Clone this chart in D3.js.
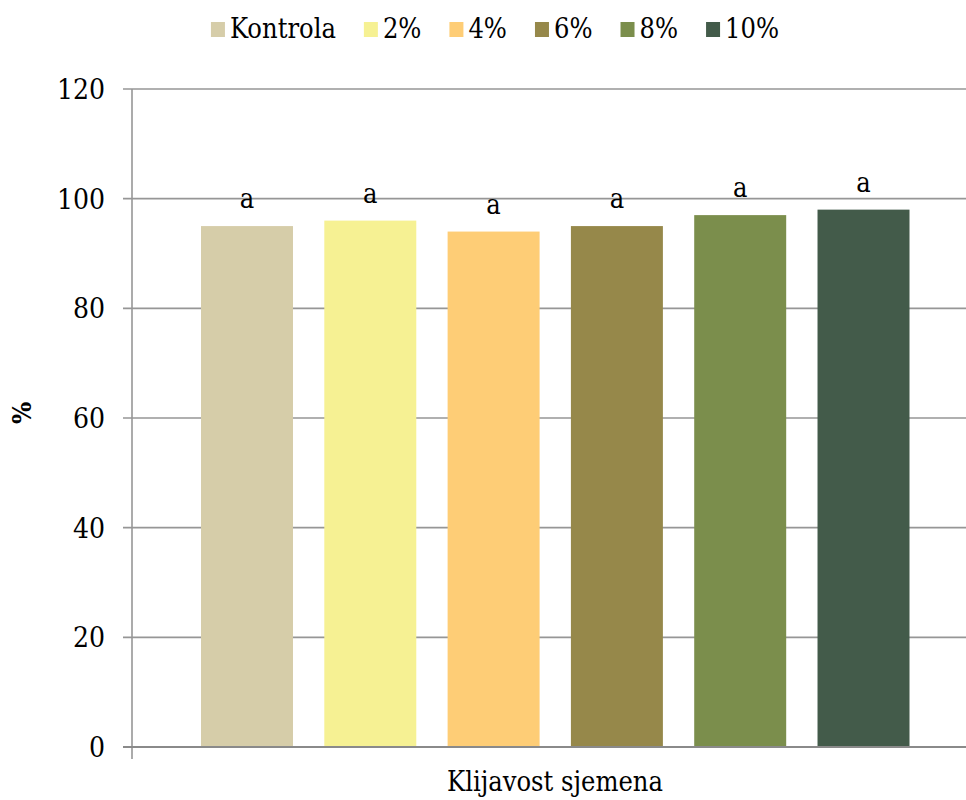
<!DOCTYPE html>
<html>
<head>
<meta charset="utf-8">
<script src="https://cdn.jsdelivr.net/npm/d3@7"></script>
<style>
  body { margin: 0; background: #fff; }
  svg { display: block; }
  svg text { font-family: 'DejaVu Serif Condensed', 'DejaVu Serif', serif; font-stretch: condensed; }
</style>
</head>
<body>
<div id="chart"></div>
<script>
// data
const categories = ["Kontrola", "2%", "4%", "6%", "8%", "10%"];
const values = [95, 96, 94, 95, 97, 98];
const letters = ["a", "a", "a", "a", "a", "a"];
const colors = ["#d6cda9", "#f6f193", "#fecd76", "#96884a", "#7b8e4c", "#435b4a"];
const yTicks = [0, 20, 40, 60, 80, 100, 120];

const width = 966, height = 800;
const svg = d3.select('#chart').append('svg')
  .attr('width', width)
  .attr('height', height);

// plot area
const plotLeft = 132, plotTop = 89, plotBottom = 747, plotRight = 978;

const y = d3.scaleLinear().domain([0, 120]).range([plotBottom, plotTop]);
const x = d3.scaleBand().domain(categories)
  .range([201, 909.5])
  .paddingInner(0.254)
  .paddingOuter(0);

// gridlines
svg.append('g').selectAll('line')
  .data(yTicks.filter(d => d > 0))
  .join('line')
  .attr('x1', plotLeft - 9)
  .attr('x2', plotRight)
  .attr('y1', d => y(d))
  .attr('y2', d => y(d))
  .attr('stroke', '#969696')
  .attr('stroke-width', 1.6);

// tick labels
svg.append('g').selectAll('text')
  .data(yTicks)
  .join('text')
  .attr('x', 105)
  .attr('y', d => y(d))
  .attr('dy', '0.36em')
  .attr('text-anchor', 'end')
  .attr('font-size', 28)
  .text(d => d);

// bars
svg.append('g').selectAll('rect')
  .data(values)
  .join('rect')
  .attr('x', (d, i) => x(categories[i]))
  .attr('y', d => y(d))
  .attr('width', x.bandwidth())
  .attr('height', d => y(0) - y(d))
  .attr('fill', (d, i) => colors[i]);

// letters above bars
svg.append('g').selectAll('text')
  .data(values)
  .join('text')
  .attr('x', (d, i) => x(categories[i]) + x.bandwidth() / 2)
  .attr('y', d => y(d) - 18)
  .attr('text-anchor', 'middle')
  .attr('font-size', 27)
  .text((d, i) => letters[i]);

// axes lines
svg.append('line')
  .attr('x1', plotLeft).attr('x2', plotLeft)
  .attr('y1', plotTop).attr('y2', plotBottom + 12)
  .attr('stroke', '#969696').attr('stroke-width', 1.6);
svg.append('line')
  .attr('x1', plotLeft - 9).attr('x2', plotRight)
  .attr('y1', plotBottom).attr('y2', plotBottom)
  .attr('stroke', '#8a8a8a').attr('stroke-width', 2);

// axis titles
svg.append('text')
  .attr('x', 555)
  .attr('y', 791)
  .attr('text-anchor', 'middle')
  .attr('font-size', 27)
  .text('Klijavost sjemena');

svg.append('text')
  .attr('transform', 'translate(31,413) rotate(-90)')
  .attr('text-anchor', 'middle')
  .attr('font-size', 26)
  .attr('font-weight', 'bold')
  .text('%');

// legend - lay items out by measured text width, centred on the chart
const swatch = 14, swatchGap = 5, itemGap = 28, legendCenter = 495;
const legend = svg.append('g');
const items = legend.selectAll('g')
  .data(categories)
  .join('g');
items.append('rect')
  .attr('x', 0).attr('y', 22)
  .attr('width', swatch).attr('height', 15)
  .attr('fill', (d, i) => colors[i]);
items.append('text')
  .attr('x', swatch + swatchGap)
  .attr('y', 38)
  .attr('font-size', 27)
  .text(d => d);

let xPos = 0;
const offsets = [];
items.each(function() {
  offsets.push(xPos);
  const w = d3.select(this).select('text').node().getComputedTextLength();
  xPos += swatch + swatchGap + w + itemGap;
});
const totalWidth = xPos - itemGap;
const startX = legendCenter - totalWidth / 2;
items.attr('transform', (d, i) => `translate(${startX + offsets[i]},0)`);
</script>
</body>
</html>
